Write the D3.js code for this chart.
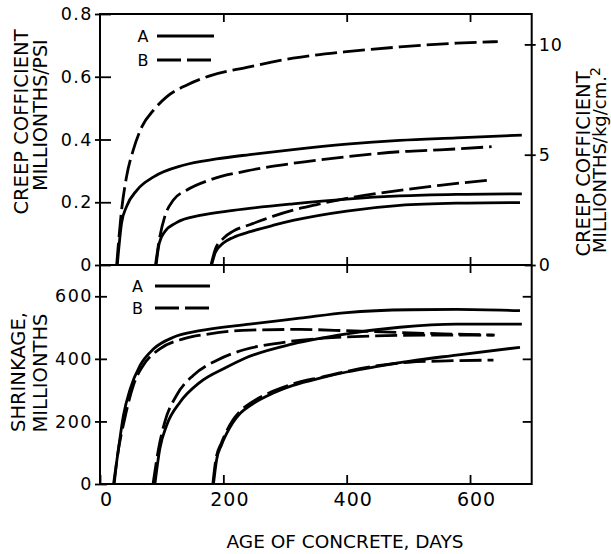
<!DOCTYPE html>
<html>
<head>
<meta charset="utf-8">
<script src="https://d3js.org/d3.v7.min.js"></script>
<style>
body { margin: 0; background: #fff; }
.curve { fill: none; stroke: #000; stroke-width: 2.8; stroke-linejoin: round; }
.dash { stroke-dasharray: 22, 6; }
</style>
</head>
<body>
<svg id="chart" width="611" height="554"></svg>
<script>

// creep coefficient, millionths/psi  -- [age of concrete (days), value]
var creepA28 = [[28,0],[35,0.134],[43,0.186],[60,0.239],[87,0.281],[135,0.318],[189,0.338],[243,0.352],[313,0.368],[400,0.385],[486,0.397],[578,0.405],[684,0.414]];
var creepB28 = [[27,0],[35,0.175],[43,0.281],[54,0.367],[68,0.441],[87,0.494],[108,0.536],[141,0.574],[178,0.603],[238,0.630],[313,0.659],[400,0.680],[486,0.695],[578,0.707],[645,0.712]];
var creepA90 = [[91,0],[96,0.069],[105,0.106],[124,0.135],[162,0.158],[216,0.174],[313,0.195],[400,0.210],[486,0.220],[578,0.225],[684,0.227]];
var creepB90 = [[90,0],[97,0.090],[105,0.154],[119,0.207],[141,0.239],[178,0.271],[238,0.300],[313,0.324],[400,0.345],[486,0.361],[551,0.367],[635,0.377]];
var creepA180 = [[181,0],[187,0.040],[200,0.070],[216,0.088],[245,0.107],[280,0.126],[313,0.142],[400,0.172],[486,0.190],[578,0.197],[681,0.199]];
var creepB180 = [[180,0],[187,0.050],[200,0.085],[216,0.108],[245,0.130],[280,0.155],[313,0.175],[350,0.192],[400,0.212],[486,0.238],[551,0.254],[635,0.271]];

// shrinkage, millionths
var shrinkA28 = [[22,0],[30,113],[38,219],[49,304],[65,379],[87,432],[119,469],[162,490],[243,511],[324,530],[400,548],[503,557],[578,558],[681,554]];
var shrinkB28 = [[23,0],[27,70],[40,208],[54,315],[70,379],[97,432],[135,464],[178,480],[243,492],[324,494],[400,490],[486,484],[578,479],[640,476]];
var shrinkA90 = [[89,0],[97,113],[108,187],[130,262],[162,325],[205,373],[235,402],[313,448],[400,480],[486,501],[578,511],[684,511]];
var shrinkB90 = [[86,0],[95,113],[105,198],[124,283],[151,347],[189,395],[235,430],[281,448],[362,466],[443,473],[550,476],[638,476]];
var shrinkA180 = [[184,0],[189,77],[197,125],[205,160],[215,195],[227,225],[249,258],[280,290],[313,315],[360,340],[400,358],[450,376],[503,393],[578,412],[681,437]];
var shrinkB180 = [[183,0],[188,80],[197,132],[205,168],[215,203],[227,232],[249,265],[280,296],[313,320],[360,342],[400,360],[450,378],[500,389],[550,393],[638,396]];

var ageTicks = [0, 200, 400, 600],
    creepTicks = [0, 0.2, 0.4, 0.6, 0.8],
    creepKgTicks = [0, 5, 10],
    shrinkTicks = [0, 200, 400, 600];

var PSI_PER_KGCM2 = 14.223;
var FONT = "'DejaVu Sans', sans-serif";

var svg = d3.select("#chart");
var plotL = 100, plotR = 531.7, plotT = 14, plotM = 265, plotB = 484;

var x = d3.scaleLinear().domain([0, 700]).range([plotL, plotR]);
var yCreep = d3.scaleLinear().domain([0, 0.8]).range([plotM, plotT]);
var yCreepKg = d3.scaleLinear().domain([0, 0.8 * PSI_PER_KGCM2]).range([plotM, plotT]);
var yShrink = d3.scaleLinear().domain([0, 700]).range([plotB, plotM]);

// frame
svg.append("rect")
    .attr("x", plotL).attr("y", plotT)
    .attr("width", plotR - plotL).attr("height", plotB - plotT)
    .attr("fill", "none").attr("stroke", "#000").attr("stroke-width", 2);
svg.append("line")
    .attr("x1", plotL).attr("x2", plotR).attr("y1", plotM).attr("y2", plotM)
    .attr("stroke", "#000").attr("stroke-width", 2);

function styleAxis(g, size, spacing) {
  g.select(".domain").remove();
  g.attr("font-family", FONT).attr("font-size", size);
  g.selectAll(".tick line").attr("stroke", "#000").attr("stroke-width", 1.8);
  g.selectAll(".tick text").attr("fill", "#000").attr("letter-spacing", spacing);
}

// left axis, creep
svg.append("g")
    .attr("transform", "translate(" + plotL + ",0)")
    .call(d3.axisLeft(yCreep).tickValues(creepTicks).tickSize(5).tickPadding(2)
      .tickFormat(function(d) { return d === 0 ? "0" : d3.format(".1f")(d); }))
    .call(function(g) { styleAxis(g, 17.5, 1.5); g.selectAll(".tick line").attr("x1", 11); });

// right axis, creep in kg/cm2
svg.append("g")
    .attr("transform", "translate(" + plotR + ",0)")
    .call(d3.axisRight(yCreepKg).tickValues(creepKgTicks).tickSize(4).tickPadding(3))
    .call(function(g) { styleAxis(g, 17.5, 1); g.selectAll(".tick line").attr("x1", -7); });

// left axis, shrinkage
svg.append("g")
    .attr("transform", "translate(" + plotL + ",0)")
    .call(d3.axisLeft(yShrink).tickValues(shrinkTicks).tickSize(5).tickPadding(2))
    .call(function(g) { styleAxis(g, 17.5, 1.5); g.selectAll(".tick line").attr("x1", 7); });

// right inner ticks, shrinkage
svg.append("g")
    .attr("transform", "translate(" + plotR + ",0)")
    .call(d3.axisLeft(yShrink).tickValues(shrinkTicks.slice(1)).tickSize(9).tickFormat(""))
    .call(function(g) { styleAxis(g, 10, 0); });

// age axis
svg.append("g")
    .attr("transform", "translate(0," + plotB + ")")
    .call(d3.axisBottom(x).tickValues(ageTicks).tickSize(0).tickPadding(9))
    .call(function(g) {
      styleAxis(g, 19, 1);
      g.selectAll(".tick text").attr("x", 6);
      g.selectAll(".tick line").attr("y2", -9);
    });

// inner ticks along the top and the middle line
[[plotT, 8], [plotM, -8], [plotM, 8]].forEach(function(t) {
  svg.append("g")
      .attr("transform", "translate(0," + t[0] + ")")
      .call(d3.axisBottom(x).tickValues(ageTicks.slice(1)).tickSize(t[1]).tickFormat(""))
      .call(function(g) { styleAxis(g, 10, 0); });
});

// curves
var creepLine = d3.line()
    .x(function(d) { return x(d[0]); })
    .y(function(d) { return yCreep(d[1]); })
    .curve(d3.curveMonotoneX);
var shrinkLine = d3.line()
    .x(function(d) { return x(d[0]); })
    .y(function(d) { return yShrink(d[1]); })
    .curve(d3.curveMonotoneX);

[creepA28, creepA90, creepA180].forEach(function(s) {
  svg.append("path").attr("class", "curve").attr("d", creepLine(s));
});
[creepB28, creepB90, creepB180].forEach(function(s) {
  svg.append("path").attr("class", "curve dash").attr("d", creepLine(s));
});
[shrinkA28, shrinkA90, shrinkA180].forEach(function(s) {
  svg.append("path").attr("class", "curve").attr("d", shrinkLine(s));
});
[shrinkB28, shrinkB90, shrinkB180].forEach(function(s) {
  svg.append("path").attr("class", "curve dash").attr("d", shrinkLine(s));
});

// legends
function legend(ya, yb, xt, x1, x2) {
  var g = svg.append("g").attr("font-family", FONT).attr("font-size", 16);
  g.append("text").attr("x", xt).attr("y", ya).attr("dy", "0.36em").attr("text-anchor", "middle").text("A");
  g.append("text").attr("x", xt).attr("y", yb).attr("dy", "0.36em").attr("text-anchor", "middle").text("B");
  g.append("line").attr("x1", x1).attr("x2", x2).attr("y1", ya).attr("y2", ya)
      .attr("stroke", "#000").attr("stroke-width", 2.8);
  g.append("line").attr("x1", x1).attr("x2", x2).attr("y1", yb).attr("y2", yb)
      .attr("stroke", "#000").attr("stroke-width", 2.8).attr("stroke-dasharray", "24,6");
}
legend(36, 60, 143, 157, 214);
legend(286, 308, 137.5, 155, 210);

// axis titles
function vtitle(xb, yc, str, size) {
  return svg.append("text")
      .attr("transform", "translate(" + xb + "," + yc + ") rotate(-90)")
      .attr("text-anchor", "middle")
      .attr("font-family", FONT)
      .attr("font-size", size)
      .text(str);
}
vtitle(28, 122, "CREEP  COFFICIENT", 19.5);
vtitle(47, 115, "MILLIONTHS/PSI", 19);
vtitle(25, 372, "SHRINKAGE,", 19.5);
vtitle(47, 373, "MILLIONTHS", 19.5);
vtitle(590, 164, "CREEP  COFFICIENT", 19.5);
var kg = vtitle(606, 160, "MILLIONTHS/kg/cm.", 18);
kg.append("tspan").attr("dy", "-0.45em").attr("font-size", 14).text("2");

svg.append("text")
    .attr("x", 345).attr("y", 548)
    .attr("text-anchor", "middle")
    .attr("font-family", FONT)
    .attr("font-size", 18.5)
    .text("AGE OF CONCRETE, DAYS");

</script>
</body>
</html>
